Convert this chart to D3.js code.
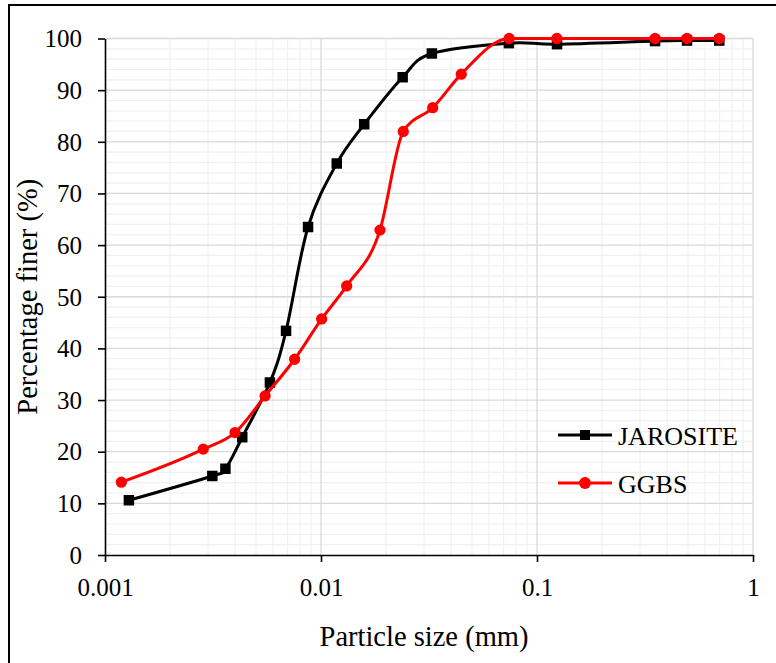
<!DOCTYPE html>
<html>
<head>
<meta charset="utf-8">
<script src="https://cdn.jsdelivr.net/npm/d3@7"></script>
<style>
  body { margin: 0; background: #fff; }
  svg { display: block; }
</style>
</head>
<body>
<script>
// particle size (mm) and percentage finer
var jarositeSize  = [0.00129, 0.00314, 0.00361, 0.00432, 0.00580, 0.00689, 0.00871, 0.01183, 0.01585, 0.02388, 0.0326, 0.0741, 0.1238, 0.352, 0.495, 0.698];
var jarositeFiner = [10.6, 15.3, 16.7, 22.8, 33.4, 43.4, 63.5, 75.8, 83.4, 92.5, 97.1, 99.1, 98.9, 99.5, 99.6, 99.6];

var ggbsSize  = [0.00119, 0.00285, 0.00400, 0.00551, 0.00755, 0.01007, 0.01315, 0.01875, 0.02404, 0.0329, 0.0446, 0.0743, 0.1236, 0.352, 0.495, 0.698];
var ggbsFiner = [14.1, 20.5, 23.7, 30.8, 37.9, 45.7, 52.1, 62.9, 82.0, 86.6, 93.1, 100, 100, 100, 100, 100];

var xTicks = [0.001, 0.01, 0.1, 1];
var yTicks = [0, 10, 20, 30, 40, 50, 60, 70, 80, 90, 100];

var series = [
	{ name: 'JAROSITE', color: '#000000', shape: 'square', size: jarositeSize, finer: jarositeFiner, curve: d3.curveCardinal.tension(0) },
	{ name: 'GGBS', color: '#ff0000', shape: 'circle', size: ggbsSize, finer: ggbsFiner, curve: d3.curveMonotoneX }
];

var w = 776, h = 663;
var mLeft = 105, mRight = 753, mTop = 38.5, mBottom = 555;
var serif = "'Liberation Serif', 'Times New Roman', Times, serif";

var svg = d3.select('body').append('svg')
	.attr('width', w)
	.attr('height', h);

// outer chart frame (right/bottom edges fall outside the picture)
svg.append('rect')
	.attr('x', 9).attr('y', 5)
	.attr('width', 800).attr('height', 700)
	.attr('fill', 'none')
	.attr('stroke', '#000')
	.attr('stroke-width', 2);

var x = d3.scaleLog().domain([0.001, 1]).range([mLeft, mRight]);
var y = d3.scaleLinear().domain([0, 100]).range([mBottom, mTop]);

// minor grid
var grid = svg.append('g');
grid.selectAll('.xminor')
	.data(x.ticks().filter(function(d) { return xTicks.indexOf(d) < 0; }))
	.enter().append('line')
		.attr('x1', function(d) { return x(d); })
		.attr('x2', function(d) { return x(d); })
		.attr('y1', mTop).attr('y2', mBottom)
		.attr('stroke', '#f0f0f0').attr('stroke-width', 1.2);
grid.selectAll('.yminor')
	.data(y.ticks(50).filter(function(d) { return d % 10 != 0; }))
	.enter().append('line')
		.attr('x1', mLeft).attr('x2', mRight)
		.attr('y1', function(d) { return y(d); })
		.attr('y2', function(d) { return y(d); })
		.attr('stroke', '#f0f0f0').attr('stroke-width', 1.2);

// major grid
grid.selectAll('.xmajor')
	.data(xTicks.slice(1))
	.enter().append('line')
		.attr('x1', function(d) { return x(d); })
		.attr('x2', function(d) { return x(d); })
		.attr('y1', mTop).attr('y2', mBottom)
		.attr('stroke', '#d9d9d9').attr('stroke-width', 1.3);
grid.selectAll('.ymajor')
	.data(yTicks.slice(1))
	.enter().append('line')
		.attr('x1', mLeft).attr('x2', mRight)
		.attr('y1', function(d) { return y(d); })
		.attr('y2', function(d) { return y(d); })
		.attr('stroke', '#d9d9d9').attr('stroke-width', 1.3);

// axes
var xAxis = svg.append('g')
	.attr('transform', 'translate(0,' + mBottom + ')')
	.call(d3.axisBottom(x).tickValues(xTicks).tickFormat(function(d) { return String(d); }).tickSize(7).tickSizeOuter(0));
xAxis.selectAll('text')
	.attr('y', 41).attr('dy', 0)
	.style('font-family', serif)
	.style('font-size', '25px')
	.attr('fill', '#000');

var yAxis = svg.append('g')
	.attr('transform', 'translate(' + mLeft + ',0)')
	.call(d3.axisLeft(y).tickValues(yTicks).tickSize(7).tickSizeOuter(0));
yAxis.selectAll('text')
	.attr('x', -23).attr('dy', '0.33em')
	.style('font-family', serif)
	.style('font-size', '25px')
	.attr('fill', '#000');

svg.selectAll('.domain, .tick line')
	.attr('stroke', '#000')
	.attr('stroke-width', 1.6);

var square = d3.symbol().type(d3.symbolSquare).size(110);
var circle = d3.symbol().type(d3.symbolCircle).size(100);

series.forEach(function(s) {
	var pts = s.size.map(function(v, i) { return [v, s.finer[i]]; });
	var line = d3.line()
		.x(function(d) { return x(d[0]); })
		.y(function(d) { return y(d[1]); })
		.curve(s.curve);
	svg.append('path')
		.datum(pts)
		.attr('d', line)
		.attr('fill', 'none')
		.attr('stroke', s.color)
		.attr('stroke-width', 3);
	svg.selectAll('.m-' + s.name)
		.data(pts)
		.enter().append('path')
			.attr('d', s.shape == 'square' ? square : circle)
			.attr('transform', function(d) { return 'translate(' + x(d[0]) + ',' + y(d[1]) + ')'; })
			.attr('fill', s.color);
});

// legend
var legend = svg.append('g');
series.forEach(function(s, i) {
	var ly = 435 + i * 48;
	legend.append('line')
		.attr('x1', 558).attr('x2', 612)
		.attr('y1', ly).attr('y2', ly)
		.attr('stroke', s.color).attr('stroke-width', 3);
	legend.append('path')
		.attr('d', s.shape == 'square' ? d3.symbol().type(d3.symbolSquare).size(100)() : d3.symbol().type(d3.symbolCircle).size(110)())
		.attr('transform', 'translate(585,' + ly + ')')
		.attr('fill', s.color);
	legend.append('text')
		.attr('x', 618).attr('y', ly + 10)
		.style('font-family', serif)
		.style('font-size', '26px')
		.text(s.name);
});

// axis titles
svg.append('text')
	.attr('x', 424).attr('y', 646)
	.attr('text-anchor', 'middle')
	.style('font-family', serif)
	.style('font-size', '28.5px')
	.text('Particle size (mm)');

svg.append('text')
	.attr('transform', 'translate(37,' + ((mTop + mBottom) / 2) + ')rotate(-90)')
	.attr('text-anchor', 'middle')
	.style('font-family', serif)
	.style('font-size', '28.5px')
	.text('Percentage finer (%)');
</script>
</body>
</html>
